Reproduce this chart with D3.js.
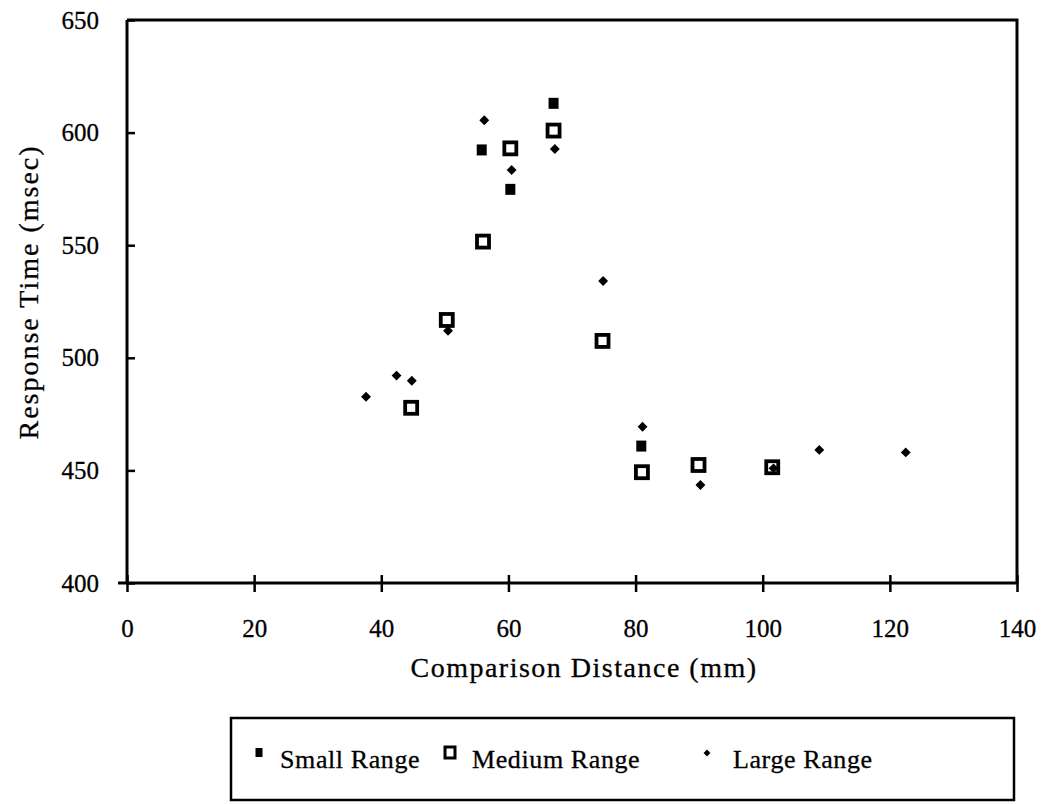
<!DOCTYPE html>
<html>
<head>
<meta charset="utf-8">
<script src="https://cdn.jsdelivr.net/npm/d3@7"></script>
<style>
  body { margin: 0; background: #fff; }
  text { font-family: "Liberation Serif", "Times New Roman", serif; fill: #000; }
</style>
</head>
<body>
<div id="chart"></div>
<script>
// Data
const xTicks = [0, 20, 40, 60, 80, 100, 120, 140];
const yTicks = [400, 450, 500, 550, 600, 650];

const smallX = [55.8, 60.3, 67.1, 80.9];
const smallY = [592.3, 574.8, 613.0, 460.8];

const mediumX = [44.7, 50.3, 56.0, 60.3, 67.1, 74.8, 81.0, 89.9, 101.5];
const mediumY = [477.8, 516.8, 551.6, 593.0, 600.9, 507.5, 449.2, 452.4, 451.4];

const largeX = [37.6, 42.4, 44.8, 50.5, 56.2, 60.5, 67.3, 74.9, 81.1, 90.2, 101.7, 108.9, 122.5];
const largeY = [482.7, 492.1, 489.8, 512.0, 605.5, 583.4, 592.7, 534.1, 469.4, 443.5, 450.9, 459.1, 458.0];

const seriesNames = ["Small Range", "Medium Range", "Large Range"];

const svgWidth = 1049;
const svgHeight = 804;
const margin = { top: 20, right: 32, bottom: 221, left: 127 };
const width = svgWidth - margin.left - margin.right;
const height = svgHeight - margin.top - margin.bottom;

const svg = d3.select("#chart")
    .append("svg")
    .attr("width", svgWidth)
    .attr("height", svgHeight);

const chartGroup = svg.append("g")
    .attr("transform", `translate(${margin.left}, ${margin.top})`);

const xScale = d3.scaleLinear().domain([0, 140]).range([0, width]);
const yScale = d3.scaleLinear().domain([400, 650]).range([height, 0]);

// Frame (top and right)
chartGroup.append("path")
    .attr("d", `M0,0H${width}V${height}`)
    .attr("fill", "none")
    .attr("stroke", "#000")
    .attr("stroke-width", 3);

// Axes with crossing ticks
const bottomAxis = d3.axisBottom(xScale).tickValues(xTicks).tickSize(9).tickPadding(27);
const leftAxis = d3.axisLeft(yScale).tickValues(yTicks).tickSize(9).tickPadding(19);

const xg = chartGroup.append("g")
    .attr("transform", `translate(0, ${height})`)
    .call(bottomAxis);
xg.select(".domain").attr("stroke-width", 3).attr("d", `M-9,0H${width}`);
xg.selectAll(".tick line").attr("y1", -8).attr("stroke-width", 2.5);
xg.selectAll(".tick text")
    .attr("font-size", 25)
    .attr("font-family", "Liberation Serif")
    .attr("stroke", "#000").attr("stroke-width", 0.3);

const yg = chartGroup.append("g").call(leftAxis);
yg.select(".domain").attr("stroke-width", 3).attr("d", `M0,0V${height}`);
yg.selectAll(".tick line").attr("x2", 8).attr("stroke-width", 2.5);
yg.selectAll(".tick text")
    .attr("font-size", 25)
    .attr("font-family", "Liberation Serif")
    .attr("stroke", "#000").attr("stroke-width", 0.3);

// Medium range: hollow squares
chartGroup.selectAll(".medium")
    .data(mediumX.map((x, i) => ({ x, y: mediumY[i] })))
    .enter()
    .append("rect")
    .attr("class", "medium")
    .attr("x", d => xScale(d.x) - 6)
    .attr("y", d => yScale(d.y) - 6)
    .attr("width", 12)
    .attr("height", 12)
    .attr("fill", "none")
    .attr("stroke", "#000")
    .attr("stroke-width", 3.8);

// Small range: filled squares
chartGroup.selectAll(".small")
    .data(smallX.map((x, i) => ({ x, y: smallY[i] })))
    .enter()
    .append("rect")
    .attr("class", "small")
    .attr("x", d => xScale(d.x) - 5)
    .attr("y", d => yScale(d.y) - 5.5)
    .attr("width", 10)
    .attr("height", 11)
    .attr("fill", "#000");

// Large range: diamonds
const diamond = d3.symbol().type(d3.symbolDiamond2).size(62);
chartGroup.selectAll(".large")
    .data(largeX.map((x, i) => ({ x, y: largeY[i] })))
    .enter()
    .append("path")
    .attr("class", "large")
    .attr("d", diamond)
    .attr("transform", d => `translate(${xScale(d.x)}, ${yScale(d.y)})`)
    .attr("fill", "#000");

// Axis labels
svg.append("text")
    .attr("transform", `translate(28, 292) rotate(-90)`)
    .attr("text-anchor", "middle")
    .attr("dy", "0.35em")
    .attr("font-size", 28)
    .attr("letter-spacing", 2)
    .attr("stroke", "#000").attr("stroke-width", 0.3)
    .text("Response Time (msec)");

svg.append("text")
    .attr("x", 584)
    .attr("y", 677)
    .attr("text-anchor", "middle")
    .attr("font-size", 28)
    .attr("letter-spacing", 1.5)
    .attr("stroke", "#000").attr("stroke-width", 0.3)
    .text("Comparison Distance (mm)");

// Legend
const legend = svg.append("g");
legend.append("rect")
    .attr("x", 231)
    .attr("y", 718)
    .attr("width", 783)
    .attr("height", 82)
    .attr("fill", "none")
    .attr("stroke", "#000")
    .attr("stroke-width", 2.5);

const legendX = [259, 450, 707];
const legendY = 753;

legend.append("rect")
    .attr("x", legendX[0] - 3.5).attr("y", legendY - 5)
    .attr("width", 7).attr("height", 9)
    .attr("fill", "#000");
legend.append("rect")
    .attr("x", legendX[1] - 5).attr("y", legendY - 6)
    .attr("width", 10).attr("height", 11)
    .attr("fill", "none").attr("stroke", "#000").attr("stroke-width", 3);
legend.append("path")
    .attr("d", d3.symbol().type(d3.symbolDiamond2).size(30))
    .attr("transform", `translate(${legendX[2]}, ${legendY})`)
    .attr("fill", "#000");

legend.selectAll(".legtext")
    .data(seriesNames)
    .enter()
    .append("text")
    .attr("class", "legtext")
    .attr("x", (d, i) => legendX[i] + [21, 22, 26][i])
    .attr("y", 768)
    .attr("font-size", 26)
    .attr("letter-spacing", [0.6])
    .attr("stroke", "#000").attr("stroke-width", 0.3)
    .text(d => d);
</script>
</body>
</html>
